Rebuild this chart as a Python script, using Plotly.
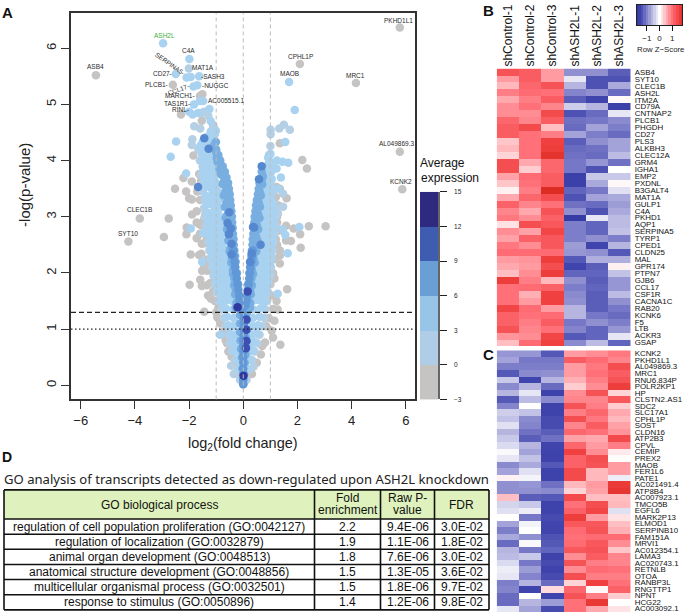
import plotly.graph_objects as go

W, H = 685, 615
# ---------- volcano data (log2 fold change, -log10 p) ----------
gray_points = [(-5.44,5.52),(-2.6,5.35),(-1.6,5.15),(-1.51,5.18),(-2.3,4.82),(-1.11,4.63),(-1.53,4.71),(-1.84,4.09),(-2.21,3.69),(-1.9,3.63),
 (-1.63,3.76),(-2.52,3.5),(-2.11,3.45),(-2.0,3.33),(-1.9,3.31),(-1.89,3.04),(-1.56,3.64),(-2.75,2.97),(-3.82,2.97),(-4.24,2.56),(-2.93,2.64),
 (-2.1,2.69),(-2.09,2.81),(-1.72,2.9),(-1.63,2.87),(-1.72,2.62),(-1.53,2.52),(-1.43,2.53),(-1.94,2.33),(-1.63,2.32),(-1.55,2.34),(-1.33,2.24),
 (-1.52,2.04),(-1.33,2.04),(-1.25,2.14),(-1.98,1.79),(-1.59,1.88),(-1.53,1.77),(-1.35,1.78),(-1.22,1.82),(-1.11,1.68),(-1.19,1.54),(-1.44,1.31),
 (-0.92,1.37),(-0.96,1.21),(-0.67,0.92),(-0.6,0.75),(-0.43,0.51),(-0.5,0.62),(-0.3,0.42),(-1.05,1.5),(-1.72,3.1),(-1.4,3.05),(-1.6,2.7),(-1.45,2.95),
 (-1.3,1.6),(-1.45,2.15),(-1.35,2.6),(-1.55,2.85),(-0.75,0.95),(-0.85,1.1),(-1.0,1.3),(-0.65,0.8),(-0.55,0.6),(-1.6,3.3),(-1.7,3.45),(-1.5,3.5),
 (5.78,6.37),(2.09,5.72),(4.16,5.38),(5.78,4.16),(5.87,3.49),(1.35,4.31),(2.18,4.01),(2.35,3.86),(1.6,3.33),(1.23,3.53),(1.35,3.5),(1.1,3.25),(0.95,4.1),
 (1.3,3.2),(3.04,2.83),(2.42,2.83),(1.86,2.79),(1.58,2.84),(2.1,2.69),(1.58,2.58),(1.76,2.57),(2.12,2.45),(1.35,2.4),(1.35,2.31),(1.35,2.17),(1.25,2.5),
 (1.62,1.71),(1.23,1.5),(1.11,1.36),(1.27,1.35),(1.05,0.97),(1.37,0.72),(0.8,0.76),(1.0,1.8),(1.1,2.0),(1.15,2.25),(0.95,1.2),(0.85,1.05),(0.65,0.55),(0.5,0.4),(0.32,0.2),(-0.2,0.2),(1.0,2.9),(0.9,3.7),
 (1.05,1.6),(1.15,1.9),(1.2,2.6),(1.25,2.9),(1.15,1.15),(1.1,0.85),(0.7,0.7),(1.25,3.0),(1.3,2.75),(1.2,3.35)]
pale_points = [(-0.12,0.1),(0.12,0.1),(-0.2,0.28),(0.22,0.28),(-0.3,0.45),(0.32,0.45),(-0.42,0.6),(0.42,0.6),(-0.5,0.75),(0.52,0.75),(-0.55,0.9),(0.6,0.9),
 (-0.65,1.05),(0.7,1.05),(-0.72,1.2),(0.78,1.2),(-0.8,1.35),(0.82,1.35),(-0.9,1.5),(0.88,1.5),(-0.98,1.65),(0.92,1.65),(-1.05,1.8),(0.95,1.8),(-1.1,1.95),(1.0,1.95),
 (-1.15,2.1),(1.02,2.1),(-1.22,2.25),(1.05,2.25),(-1.25,2.4),(1.08,2.4),(-1.3,2.55),(1.12,2.55),(-1.32,2.7),(1.15,2.7),(-1.38,2.85),(1.18,2.85),(-1.42,3.0),(1.2,3.0),
 (-1.45,3.15),(1.18,3.15),(-1.42,3.3),(1.47,3.41),(1.47,3.18),(1.28,3.06),(-1.5,3.45),(1.1,3.45),(-1.48,3.6),(1.0,3.6),(-1.55,3.75),(-1.5,3.9),(-1.6,4.0),
 (-1.88,4.38),(-1.9,4.28),(-1.66,4.2),(-2.01,5.64),(-1.53,4.85),(-1.59,4.57),(-1.81,4.61),(-1.05,4.47),(-1.1,4.6),
 (1.01,4.47),(1.01,4.55),(1.0,4.26),(1.33,4.57),(1.72,4.55),(1.5,4.64),(-1.29,4.8),(-1.45,4.87),(-0.35,0.2),(0.38,0.33),(-0.45,0.35)]
light_points = [(-2.96,6.09),(-1.99,5.81),(-2.49,5.54),(-2.09,5.48),(-1.94,5.49),(-1.63,5.5),(-1.84,5.32),(-1.7,5.34),(-1.82,5.0),(-1.6,5.06),(-1.48,5.06),(-1.25,4.92),
 (-1.66,4.85),(-2.0,4.87),(-1.87,4.82),(-1.2,4.7),(-1.01,4.53),(-2.48,4.34),(-2.68,4.07),(-2.11,3.77),(-1.94,2.79),(-1.48,2.71),(-1.52,2.2),(-0.86,0.9),
 (1.69,5.4),(1.9,4.9),(1.55,4.33),(1.24,4.0),(1.45,3.98),(1.66,3.96),(1.39,3.7),(1.23,3.86),(1.05,3.9),(2.07,2.82),(1.64,2.35),(1.27,1.63),(1.45,2.78),(1.55,2.68),
 (-0.12,0.3),(0.14,0.3),(-0.2,0.45),(0.2,0.45),(-0.25,0.6),(0.25,0.6),(-0.35,0.62),(0.35,0.62),(-0.3,0.75),(0.3,0.75),(-0.42,0.77),(0.42,0.77),(-0.32,0.9),(0.32,0.9),(-0.5,0.92),(0.5,0.92),
 (-0.35,1.05),(0.35,1.05),(-0.55,1.07),(0.55,1.07),(-0.35,1.2),(0.35,1.2),(-0.6,1.22),(0.6,1.22),(-0.38,1.35),(0.38,1.35),(-0.65,1.37),(0.65,1.37),
 (-0.4,1.5),(-0.6,1.52),(-0.8,1.48),(0.35,1.5),(0.55,1.52),(0.75,1.48),(-0.45,1.65),(-0.65,1.67),(-0.85,1.63),(0.4,1.65),(0.6,1.67),(0.78,1.63),
 (-0.5,1.8),(-0.7,1.82),(-0.9,1.78),(0.42,1.8),(0.62,1.82),(0.8,1.78),(-0.55,1.95),(-0.75,1.97),(-0.95,1.93),(0.45,1.95),(0.65,1.97),(0.85,1.93),
 (-0.6,2.1),(-0.8,2.12),(-1.0,2.08),(0.5,2.1),(0.7,2.12),(0.9,2.08),(-0.62,2.25),(-0.85,2.27),(-1.05,2.23),(0.55,2.25),(0.72,2.27),(0.92,2.23),
 (-0.68,2.4),(-0.9,2.42),(-1.1,2.38),(0.62,2.4),(0.8,2.42),(0.95,2.38),(-0.72,2.55),(-0.92,2.57),(-1.12,2.53),(0.66,2.55),(0.82,2.57),(1.0,2.53),
 (-0.78,2.7),(-0.95,2.72),(-1.15,2.68),(0.7,2.7),(0.85,2.72),(1.0,2.68),(-0.82,2.85),(-1.0,2.87),(-1.2,2.83),(0.72,2.85),(0.88,2.87),(1.05,2.83),
 (-0.85,3.0),(-1.02,3.02),(-1.2,2.98),(0.75,3.0),(0.9,3.02),(1.05,2.98),(-0.88,3.15),(-1.05,3.17),(0.78,3.15),(0.92,3.17),(1.05,3.13),
 (-0.9,3.3),(-1.1,3.32),(-1.28,3.28),(0.8,3.3),(0.95,3.32),(1.05,3.28),(-0.95,3.45),(-1.12,3.47),(0.8,3.45),(0.95,3.47),(-1.0,3.6),(-1.15,3.62),(-1.32,3.58),(0.82,3.6),(0.95,3.62),
 (-1.02,3.75),(-1.2,3.77),(-1.38,3.73),(0.85,3.75),(1.0,3.77),(-1.05,3.9),(-1.22,3.92),(-1.4,3.88),(0.88,3.9),(1.02,3.92),(-1.15,4.05),(-1.3,4.07),(-1.5,4.03),(0.92,4.05),(1.0,4.12),
 (-1.1,4.2),(-1.28,4.22),(-1.45,4.18),(-1.1,4.35),(-1.3,4.37),(-1.5,4.33),(-1.05,4.5),(-1.2,4.52),(1.3,3.5)]
light_fill_points = [(-.5,1.57),(-.7,1.57),(.45,1.57),(.65,1.57),(-.55,1.72),(-.75,1.72),(-.95,1.72),(.5,1.72),(.7,1.72),(.85,1.72),
 (-.6,1.87),(-.8,1.87),(-1.0,1.87),(.52,1.87),(.72,1.87),(.9,1.87),(-.65,2.02),(-.85,2.02),(-1.05,2.02),(.58,2.02),(.78,2.02),(.95,2.02),
 (-.7,2.17),(-.9,2.17),(-1.1,2.17),(.6,2.17),(.8,2.17),(.98,2.17),(-.75,2.32),(-.95,2.32),(-1.15,2.32),(.7,2.32),(.88,2.32),(1.02,2.32),
 (-.8,2.47),(-1.0,2.47),(-1.2,2.47),(.72,2.47),(.9,2.47),(1.05,2.47),(-.85,2.62),(-1.02,2.62),(-1.22,2.62),(.75,2.62),(.92,2.62),(1.08,2.62),
 (-.88,2.77),(-1.08,2.77),(-1.28,2.77),(.8,2.77),(.95,2.77),(1.1,2.77),(-.92,2.92),(-1.1,2.92),(-1.3,2.92),(.8,2.92),(.98,2.92),(1.12,2.92),
 (-.95,3.07),(-1.12,3.07),(-1.32,3.07),(.85,3.07),(1.0,3.07),(1.12,3.07),(-.98,3.22),(-1.15,3.22),(-1.35,3.22),(.85,3.22),(1.0,3.22),(1.12,3.22),
 (-1.0,3.37),(-1.2,3.37),(-1.38,3.37),(.88,3.37),(1.02,3.37),(-1.05,3.52),(-1.22,3.52),(-1.42,3.52),(.88,3.52),(1.02,3.52),
 (-1.08,3.67),(-1.28,3.67),(-1.45,3.67),(.9,3.67),(1.05,3.67),(-1.12,3.82),(-1.3,3.82),(-1.48,3.82),(.95,3.82),(1.05,3.82),
 (-1.12,3.97),(-1.32,3.97),(-1.5,3.97),(.95,3.97),(1.0,3.97),(-1.18,4.12),(-1.35,4.12),(-1.52,4.12),(-1.2,4.27),(-1.4,4.27),(-1.58,4.27),(-1.18,4.42),(-1.35,4.42)]
mid_points = [(0.0,0.02),(0.0,0.1),(0.03,0.2),(-0.03,0.3),(0.05,0.4),(-0.05,0.5),(0.08,0.55),(-0.08,0.65),(0.1,0.7),(-0.1,0.8),(0.1,0.85),(-0.12,0.95),(0.1,1.0),
 (-0.12,1.1),(0.12,1.15),(-0.12,1.25),(0.14,1.3),(0.0,0.9),(0.0,1.05),(0.0,1.2),(0.0,0.7),(-0.14,1.38),(0.0,1.33),(-0.28,1.38),(0.25,1.38),
 (-0.1,1.45),(-0.25,1.47),(0.1,1.45),(0.25,1.47),(-0.15,1.6),(-0.3,1.62),(0.14,1.6),(0.28,1.62),(-0.19,1.8),(-0.34,1.78),(0.18,1.8),(0.32,1.78),
 (-0.23,2.0),(-0.38,1.98),(0.22,2.0),(0.36,1.98),(-0.26,1.9),(-0.28,2.2),(-0.44,2.18),(0.27,2.2),(0.42,2.18),(-0.3,2.1),(0.25,2.1),(-0.33,2.4),(-0.5,2.38),(0.32,2.4),(0.48,2.38),(-0.3,2.3),(0.3,2.3),
 (-0.36,2.6),(-0.55,2.58),(0.35,2.6),(0.52,2.58),(-0.35,2.5),(0.34,2.5),(-0.39,2.8),(-0.6,2.78),(0.39,2.8),(0.55,2.78),(-0.38,2.7),(0.37,2.7),(-0.42,3.0),(-0.65,2.98),(0.42,3.0),(0.6,2.98),
 (-0.41,2.9),(0.41,2.9),(-0.46,3.2),(-0.68,3.18),(0.47,3.2),(0.62,3.18),(-0.44,3.1),(0.45,3.1),(-0.5,3.4),(-0.72,3.38),(0.54,3.4),(0.65,3.38),(-0.48,3.3),(0.5,3.3),(-0.56,3.6),(-0.76,3.58),(0.6,3.6),(0.7,3.58),
 (-0.53,3.5),(0.57,3.5),(-0.68,3.8),(-0.84,3.78),(0.68,3.8),(0.72,3.72),(-0.62,3.7),(-0.85,4.0),(-0.95,3.98),(-0.76,3.9),(-1.0,4.2),(-0.92,4.1),(-1.01,4.33),
 (-.2,1.5),(.18,1.5),(-.27,1.7),(.25,1.7),(-.33,1.9),(.3,1.9),(-.38,2.05),(.32,2.05),(-.42,2.25),(.38,2.25),(-.47,2.45),(.42,2.45),(-.5,2.65),(.47,2.65),(-.55,2.85),(.5,2.85),
 (-.58,3.05),(.55,3.05),(-.62,3.25),(.57,3.25),(-.66,3.45),(.6,3.45),(-.7,3.65),(.66,3.65),(-.8,3.75),(.7,3.7),(-.88,3.85),(-.9,3.95),(-.98,4.05),(-1.0,4.15),(-1.08,4.27)]
core_points = [(0.0,0.02),(0.0,0.1),(0.0,0.2),(0.0,0.3),(0.0,0.4),(0.0,0.5),(0.0,0.6),(0.0,0.7),(0.0,0.8),(0.02,0.9),(0.02,1.0),(0.02,1.1),(0.02,1.2),(-0.02,1.3),(-0.06,1.4),(0.08,1.42),
 (-.13,1.5),(-.15,1.6),(-.18,1.7),(-.21,1.8),(-.24,1.9),(-.27,2.0),(-.3,2.1),(-.32,2.2),(-.36,2.3),(-.37,2.4),(.12,1.5),(.14,1.6),(.17,1.7),(.2,1.8),(.22,1.9),(.25,2.0),(.27,2.1),(.3,2.2),(.33,2.3),(.35,2.4)]
dot1_points = [(-1.44,4.4),(-1.28,4.21),(-1.67,3.53),(-0.52,3.08),(-0.58,2.89),(-0.46,2.79),(-0.53,2.69),(-0.43,2.52),(0.4,2.81),(0.64,2.5),(0.58,3.67),(-0.43,2.33),
 (0.36,2.82),(0.31,2.35),(0.25,2.2),(0.68,3.9)]
dot2_points = [(0.16,1.67),(0.12,1.17),(0.12,0.99),(0.12,0.79),(0.1,0.66)]
dot3_points = [(-0.21,1.39),(0.01,0.17)]

gene_labels = ["ASB4","CLEC1B","SYT10","C4A","MAT1A","CD27-","-SASH3","PLCB1-","-NUGGC","MARCH1-","TAS1R1-","AC005515.1","RINL-",
               "PKHD1L1","CPHL1P","MAOB","MRC1","AL049869.3","KCNK2"]
gene_label_x = [95,139.7,128.3,188,203,162,213,156.7,215,180,176.7,226.7,180.7,398,300,289,355.7,396.7,401]
gene_label_y = [63,208,231.7,47,64.7,70.7,73.3,81,82.7,92.7,100.3,98,106.7,16.3,52.7,70.7,72.3,141.3,179.3]

xticks = [-6,-4,-2,0,2,4,6]
yticks = [0,1,2,3,4,5,6]
legend_edges = [-3,0,3,6,9,12,15]
legend_values = [-1.5,1.5,4.5,7.5,10.5,13.5]
legend_colors = ["#c6c3c3","#afcde6","#97c5e8","#6a9fd6","#3e5db0","#2e2a80"]

# ---------- heatmaps ----------
samples = ["shControl-1","shControl-2","shControl-3","shASH2L-1","shASH2L-2","shASH2L-3"]
genes_b = ["ASB4","SYT10","CLEC1B","ASH2L","ITM2A","CD79A","CNTNAP2","PLCB1","PHGDH","CD27","PLS3","ALKBH3","CLEC12A","GRM4","IGHA1","EMP2","PXDNL","B3GALT4","MAT1A","GULP1",
           "C4A","PKHD1","AQP1","SERPINA5","TYRP1","CPED1","CLDN25","MAL","GPR174","PTPN7","GJB6","CCL17","CSF1R","CACNA1C","RAB20","KCNK6","F5","LTB","ACKR3","GSAP"]
z_b = [[1.3,1.2,.7,-.9,-.9,-1.3],[.7,1.2,.7,-.2,-1.4,-1.4],[.5,1.1,1.3,-.6,-1.4,-.7],[.9,1.05,1.0,-1.0,-.9,-1.2],[.6,.9,1.2,-1.3,-1.5,.05],[.8,1.0,.85,-.4,-.6,-1.6],
 [.8,.8,1.4,-1.4,-1.2,-.2],[1.1,.85,1.2,-1.15,-1.1,-.95],[1.2,1.4,.45,-1.2,-.75,-1.05],[1.2,1.0,.9,-.75,-1.05,-1.2],[.4,1.0,1.5,-1.3,-.9,-.75],[.5,1.0,1.55,-1.2,-1.15,-.75],
 [.3,1.0,1.75,-1.15,-1.2,-.55],[1.35,.6,1.1,-1.1,-.85,-1.15],[1.35,.35,1.1,-1.1,-1.4,0],[.65,1.05,1.2,-1.6,-.45,-.45],[.4,1.0,1.2,-1.6,-.7,.05],[.1,.9,1.9,-1.25,-1.1,-.25],
 [.6,1.1,1.35,-1.4,-.75,-.7],[1.15,.85,1.0,-1.15,-1.2,-.8],[.85,.6,1.3,-.9,-1.4,-.7],[.95,.8,1.15,-1.7,-.2,-.55],[.2,1.35,1.25,-1.05,-1.25,-.55],[.8,.65,1.45,-1.05,-1.25,-.5],
 [.65,1.15,1.25,-1.05,-.9,-1.05],[.95,.8,1.25,-.8,-1.5,-.6],[1.05,1.05,1.05,-.85,-.9,-1.35],[.7,.75,1.55,-1.35,-.65,-.65],[.6,.7,1.35,-1.5,-1.3,.1],[.45,.8,1.55,-1.25,-1.25,-.5],
 [1.55,.9,.5,-.9,-1.3,-.85],[1.0,1.05,1.15,-1.05,-1.25,-.85],[1.0,.55,1.5,-.95,-1.3,-.55],[1.0,.7,1.5,-.9,-1.3,-.9],[1.45,1.05,.7,-.6,-1.3,-1.1],[1.15,1.0,1.05,-.6,-1.1,-1.2],
 [1.15,.9,1.2,-1.1,-.9,-1.05],[1.3,.85,1.0,-1.0,-1.25,-.85],[.75,.8,1.45,-1.35,-1.25,-.2],[.45,1.05,1.5,-.95,-.55,-1.25]]
genes_c = ["KCNK2","PKHD1L1","AL049869.3","MRC1","RNU6.834P","POLR2KP1","HP","CLSTN2.AS1","SDC2","SLC17A1","CPHL1P","SOST","CLDN16","ATP2B3","CPVL","CEMIP","PREX2","MAOB","FER1L6","PATE1",
           "AC021491.4","ATP8B4","AC007923.1","TMCO5B","EGFL6","MARK2P13","ELMOD1","SERPINB10","FAM151A","MRVI1","AC012354.1","LAMA3","AC020743.1","RETNLB","OTOA","RANBP3L","RNGTTP1","NPNT","HCG22","AC003092.1"]
z_c = [[-.85,-.85,-1.35,.7,.8,.95],[-.75,-1.1,-1.1,1.2,1.05,.85],[-1.05,-1.05,-1.05,.7,.95,1.35],[-1.35,-.95,-.9,.7,1.0,1.2],[-.45,-1.5,-.6,.55,.9,1.3],[-.95,-.6,-1.2,.35,.8,1.55],
 [-.6,-.2,-1.55,.8,1.3,.3],[-1.35,-.55,-.95,.85,.85,1.25],[-1.0,0,-1.55,1.3,.9,.35],[-.4,-.5,-1.55,.9,1.1,.6],[-.5,-.95,-1.45,1.35,.95,.5],[-.25,-1.0,-1.45,.85,1.2,.65],
 [-.6,-1.15,-1.3,1.1,1.0,.75],[-.45,-1.3,-1.15,.65,.6,1.4],[-.3,-.6,-1.5,1.1,.7,.9],[-.05,-.75,-1.55,1.5,.8,.15],[-.2,-.5,-1.55,1.15,1.35,.02],[-.95,-.7,-1.35,1.15,1.3,.7],
 [-.75,-.25,-1.55,1.4,.5,.7],[.1,-.1,-1.55,1.4,.5,-.15],[-.9,-.85,-1.15,.5,.7,1.6],[-.9,-.9,-.95,.3,.65,1.7],[.45,-1.3,-1.35,1.4,.45,.45],[-.35,-.45,-1.55,1.0,1.35,.5],
 [-.25,-.15,-1.55,1.15,1.45,-.25],[0,-1.1,-1.45,1.55,.7,.2],[-.75,-.1,-1.5,1.25,1.25,.45],[-1.05,0,-1.5,1.05,1.3,.55],[-.7,-.9,-1.4,1.0,1.05,1.05],[-1.2,-.05,-1.35,1.05,1.25,.8],
 [-.6,-1.1,-1.25,1.25,1.3,.4],[-.55,-.45,-1.55,.8,1.2,.85],[-.3,-1.1,-1.45,1.3,.9,.85],[-.15,-.8,-1.55,.8,1.05,1.0],[-.2,-1.0,-1.45,1.35,.9,.9],[-1.05,-.6,-1.2,.3,1.5,1.0],
 [-1.0,-1.5,.25,1.1,.05,1.15],[-1.2,0,-1.5,1.3,.9,.35],[-1.2,-.6,-.8,1.0,1.65,0],[-.2,-.75,-1.45,1.0,.6,.2]]
key_values = [-1.8,-1.6,-1.4,-1.2,-1.0,-.8,-.6,-.4,-.2,0,.2,.4,.6,.8,1.0,1.2,1.4,1.6,1.8]
key_ticks = [-1,0,1]

# ---------- table ----------
go_terms = ["regulation of cell population proliferation (GO:0042127)","regulation of localization (GO:0032879)","animal organ development (GO:0048513)",
            "anatomical structure development (GO:0048856)","multicellular organismal process (GO:0032501)","response to stimulus (GO:0050896)"]
fold_enrichment = ["2.2","1.9","1.8","1.5","1.5","1.4"]
raw_p = ["9.4E-06","1.1E-06","7.6E-06","1.3E-05","1.8E-06","1.2E-06"]
fdr = ["3.0E-02","1.8E-02","3.0E-02","3.6E-02","9.7E-02","9.8E-02"]
headers = [["GO biological process"],["Fold","enrichment"],["Raw P-","value"],["FDR"]]

def dx(a, b): return [a / W, b / W]
def dy(top, bot): return [1 - bot / H, 1 - top / H]
def split(points): return [p[0] for p in points], [p[1] for p in points]

BLUEWHITERED = [[0,"#2a2e9a"],[.125,"#4045ad"],[.25,"#8484cc"],[.5,"#ffffff"],[.75,"#ff7078"],[.875,"#f04040"],[1,"#d8281c"]]
fig = go.Figure()
for pts, color in [(gray_points,"#c6c3c3"),(pale_points,"#b5cfe5"),(light_points,"#a8d2f0"),(light_fill_points,"#a8d2f0"),(mid_points,"#78aee0"),
                   (core_points,"#6098d8"),(dot1_points,"#5688d0"),(dot2_points,"#3b50b0"),(dot3_points,"#2f389e")]:
    xs, ys = split(pts)
    fig.add_trace(go.Scatter(x=xs, y=ys, mode="markers", showlegend=False, xaxis="x", yaxis="y",
                             marker=dict(size=8.5, color=color, line=dict(width=0))))

# expression legend
scale = []
for i, c in enumerate(legend_colors):
    scale += [[i / 6, c], [(i + 1) / 6, c]]
fig.add_trace(go.Heatmap(z=[[v] for v in legend_values], x=[0], y=legend_values, xaxis="x2", yaxis="y2", showscale=False,
                         colorscale=scale, zmin=-3, zmax=15, hoverinfo="skip"))
for z, genes, xa, ya in [(z_b, genes_b, "x3", "y3"), (z_c, genes_c, "x4", "y4")]:
    fig.add_trace(go.Heatmap(z=z, x=samples, y=genes, xaxis=xa, yaxis=ya, showscale=False, colorscale=BLUEWHITERED, zmin=-2, zmax=2))
fig.add_trace(go.Heatmap(z=[key_values], x=key_values, y=[0], xaxis="x5", yaxis="y5", showscale=False, colorscale=BLUEWHITERED, zmin=-2, zmax=2))

AX = "#333333"
layout = dict(
    width=W, height=H, margin=dict(l=0,r=0,t=0,b=0), paper_bgcolor="white", plot_bgcolor="white",
    font=dict(family="Liberation Sans", color="#222"), showlegend=False,
    xaxis=dict(domain=dx(71,415), range=[-6.36,6.34], tickvals=xticks, ticktext=[str(t).replace("-","\u2212") for t in xticks], ticks="outside", ticklen=8, tickwidth=1.3,
               tickcolor=AX, showline=True, linecolor=AX, linewidth=1.6, mirror=True, showgrid=False, zeroline=False, tickfont=dict(size=13, color="#222"), anchor="y"),
    yaxis=dict(domain=dy(9,400), range=[-0.252,6.63], tickvals=yticks, tickangle=-90, ticks="outside", ticklen=8, tickwidth=1.3,
               tickcolor=AX, showline=True, linecolor=AX, linewidth=1.6, mirror=True, showgrid=False, zeroline=False, tickfont=dict(size=13, color="#222"), anchor="x"),
    xaxis2=dict(domain=dx(420,438), showticklabels=False, ticks="", showgrid=False, zeroline=False, anchor="y2", fixedrange=True),
    yaxis2=dict(domain=dy(190,400), range=[-3,15], tickvals=legend_edges, side="right", ticks="outside", ticklen=7, tickwidth=1.2, tickcolor="#222",
                tickfont=dict(size=6.5,color="#222"), ticklabelstandoff=6, showgrid=False, zeroline=False, showline=True, linecolor="#666", linewidth=1.5, anchor="x2"),
    xaxis3=dict(domain=dx(496.7,630.7), side="top", tickangle=-90, tickfont=dict(size=12,color="#111"), ticks="", showgrid=False, zeroline=False, anchor="y3", ticklabelstandoff=1),
    yaxis3=dict(domain=dy(65.3,346), side="right", autorange="reversed", type="category", tickmode="array", tickvals=genes_b, ticktext=genes_b, tickfont=dict(size=7.9,color="#111"),
                ticks="", showgrid=False, zeroline=False, anchor="x3", ticklabelstandoff=3),
    xaxis4=dict(domain=dx(496.7,630.7), showticklabels=False, ticks="", showgrid=False, zeroline=False, anchor="y4"),
    yaxis4=dict(domain=dy(350.3,615), side="right", autorange="reversed", type="category", tickmode="array", tickvals=genes_c, ticktext=genes_c, tickfont=dict(size=7.9,color="#111"),
                ticks="", showgrid=False, zeroline=False, anchor="x4", ticklabelstandoff=3),
    xaxis5=dict(domain=dx(636.7,682.3), range=[-1.81,1.81], tickvals=key_ticks, ticktext=["\u22121","0","1"], ticks="outside", ticklen=5, tickcolor="#111", tickfont=dict(size=8,color="#222"),
                showline=True, linecolor="#222", linewidth=1, mirror=True, showgrid=False, zeroline=False, anchor="y5"),
    yaxis5=dict(domain=dy(1,21.5), showticklabels=False, ticks="", showline=True, linecolor="#222", linewidth=1, mirror=True, showgrid=False, zeroline=False, anchor="x5"),
)

def note(text, x, y, size, color="#333", angle=0, family="Liberation Sans"):
    return dict(text=text, x=x/W, y=1-y/H, xref="paper", yref="paper", showarrow=False, xanchor="center", yanchor="middle",
                font=dict(size=size, color=color, family=family), textangle=angle)
ann = [note(t, x, y, 6.5, "#2a2a2a") for t, x, y in zip(gene_labels, gene_label_x, gene_label_y)]
ann += [note("ASH2L", 164.7, 31.7, 6.5, "#3db03d"), note("SERPINA5-", 170, 60, 6.5, "#2a2a2a", angle=35), note("CCL17-", 178, 86, 6.5, "#2a2a2a", angle=-20)]
ann += [note("-log(p-value)", 25, 183, 15, "#222", angle=-90), note("log<sub>2</sub>(fold change)", 243, 445, 14.5, "#222")]
ann += [note("Average", 442, 161, 12, "#111"), note("expression", 450, 176, 12, "#111"), note("Row Z\u2212Score", 660, 46, 7.8, "#222")]
ann += [note("<b>A</b>", 7, 9, 15, "#111"), note("<b>B</b>", 488, 7, 15, "#111"), note("<b>C</b>", 488, 355, 15, "#111"), note("<b>D</b>", 7, 458, 14, "#111")]
ann += [note("GO analysis of transcripts detected as down-regulated upon ASH2L knockdown", 246, 480, 13.1, "#222", family="Noto Sans")]

# table drawn with lines and text
col_edges = [4, 314.5, 380.5, 434.5, 489]
col_mid = [159.3, 347.5, 407.5, 461.7]
top, head_bot, row_h = 491.5, 521, 15.3
lines = [dict(type="rect", xref="paper", yref="paper", x0=4/W, x1=489/W, y0=1-top/H, y1=1-head_bot/H, fillcolor="#dff1bd", line=dict(width=0), layer="below")]
bot = head_bot + 6 * row_h
for e in col_edges:
    lines.append(dict(type="line", xref="paper", yref="paper", x0=e/W, x1=e/W, y0=1-top/H, y1=1-bot/H, line=dict(color="#111", width=1.6)))
for i in range(8):
    yy = top if i == 0 else head_bot + (i - 1) * row_h
    lines.append(dict(type="line", xref="paper", yref="paper", x0=4/W, x1=489/W, y0=1-yy/H, y1=1-yy/H, line=dict(color="#111", width=1.6)))
for c, head in enumerate(headers):
    if len(head) == 1:
        ann.append(note(head[0], col_mid[c], 507, 12, "#111"))
    else:
        ann.append(note(head[0], col_mid[c], 500, 12, "#111"))
        ann.append(note(head[1], col_mid[c], 512, 12, "#111"))
for c, col in enumerate([go_terms, fold_enrichment, raw_p, fdr]):
    for r, txt in enumerate(col):
        ann.append(note(txt, col_mid[c], head_bot + (r + .5) * row_h, 12, "#111"))
layout["annotations"] = ann

for v in [-1,0,1]:
    lines.append(dict(type="line", xref="x", yref="y domain", x0=v, x1=v, y0=0, y1=1, line=dict(color="#bdbdbd", width=1, dash="4px,3px"), layer="above"))
lines.append(dict(type="line", xref="x domain", yref="y", x0=0, x1=1, y0=1.3, y1=1.3, line=dict(color="#222", width=1.3, dash="5px,3px"), layer="above"))
lines.append(dict(type="line", xref="x domain", yref="y", x0=0, x1=1, y0=1, y1=1, line=dict(color="#222", width=1.2, dash="1.5px,2.5px"), layer="above"))
layout["shapes"] = lines
fig.update_layout(**layout)
fig.write_html("out.html", config={"displayModeBar": False}, post_script="document.body.style.margin='0';")
